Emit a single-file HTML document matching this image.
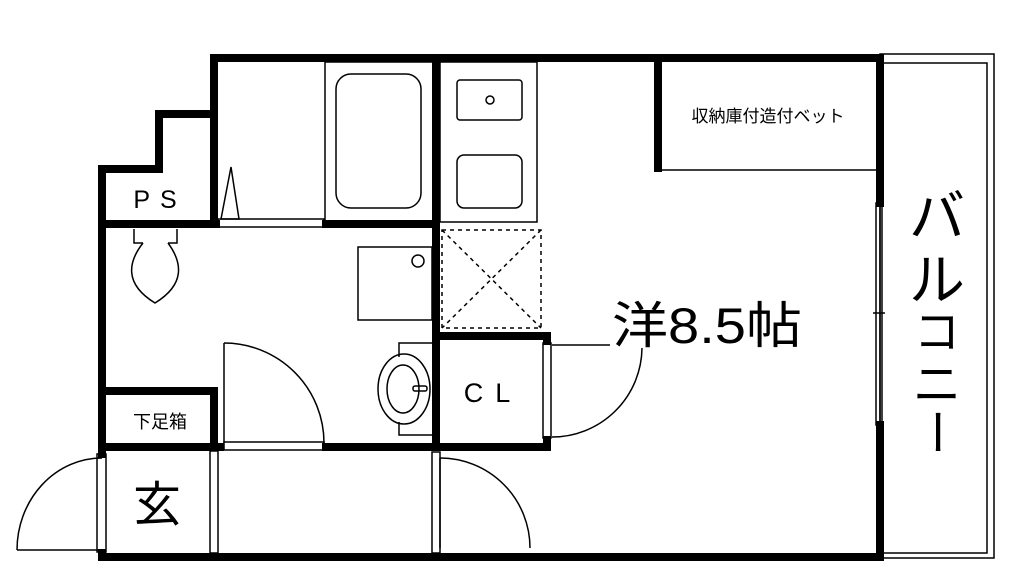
<!DOCTYPE html>
<html><head><meta charset="utf-8"><style>
html,body{margin:0;padding:0;background:#fff;}
svg{display:block;}
text{font-family:"Liberation Sans","Noto Sans CJK JP",sans-serif;fill:#000;}
</style></head><body>
<svg width="1024" height="579" viewBox="0 0 1024 579" xmlns="http://www.w3.org/2000/svg">
<g fill="none" stroke="#000" stroke-width="1.5">
<rect x="880" y="54" width="114" height="504"/>
<rect x="880" y="63" width="107" height="490"/>
<line x1="658" y1="170" x2="880" y2="170"/>
<rect x="325" y="62" width="110" height="160"/>
<rect x="336" y="74" width="85" height="134" rx="15"/>
<polygon points="221,219 231,167 239,219"/>
<rect x="218" y="219" width="106" height="8"/>
<rect x="224" y="442" width="100" height="8"/>
<rect x="440" y="62" width="97" height="160"/>
<rect x="457" y="80" width="65" height="40" rx="3"/>
<circle cx="490" cy="100" r="4"/>
<rect x="457" y="155" width="65" height="53" rx="7"/>
<g stroke-dasharray="4,4"><rect x="442" y="230" width="99" height="98"/><line x1="442" y1="230" x2="541" y2="328"/><line x1="541" y1="230" x2="442" y2="328"/></g>
<rect x="358" y="247" width="74" height="73"/>
<circle cx="418" cy="261" r="6"/>
<polyline points="432,343 399,343 399,357"/>
<polyline points="432,435 399,435 399,422"/>
<ellipse cx="404" cy="389" rx="26" ry="35"/>
<ellipse cx="403" cy="389" rx="16" ry="24"/>
<rect x="413" y="386" width="14" height="5" rx="2"/>
<polyline points="134,229 134,243 143,243"/>
<polyline points="177,229 177,243 168,243"/>
<path d="M143,243 C128,262 124,284 155,303 C186,284 182,262 168,243"/>
<line x1="224" y1="343" x2="224" y2="443"/>
<path d="M224,343 A100,100 0 0 1 324,443"/>
<line x1="440" y1="458" x2="440" y2="548"/>
<path d="M440,458 A90,90 0 0 1 530,548"/>
<path d="M102,458 A85,92 0 0 0 17,550"/>
<line x1="17" y1="550" x2="102" y2="550"/>
<line x1="552" y1="345" x2="610" y2="345"/>
<path d="M642,348 A90,90 0 0 1 552,437"/>
<rect x="97" y="454" width="9" height="98"/>
<rect x="210" y="451" width="8" height="102"/>
<rect x="432" y="452" width="8" height="101"/>
<rect x="543" y="343" width="8" height="95"/>
<rect x="876" y="203" width="6" height="222"/>
<line x1="873" y1="313" x2="885" y2="313"/>
</g>
<g stroke="#000" stroke-width="8" fill="none" stroke-linecap="square">
<polyline points="880,58 214,58 214,114 159,114 159,169 102,169 102,454"/>
<line x1="102" y1="553" x2="102" y2="557"/>
<polyline points="102,557 880,557 880,425"/>
<polyline points="880,203 880,58"/>
<line x1="658" y1="58" x2="658" y2="168"/>
<line x1="214" y1="58" x2="214" y2="224"/>
<line x1="102" y1="224" x2="216" y2="224"/>
<line x1="326" y1="224" x2="436" y2="224"/>
<line x1="436" y1="58" x2="436" y2="447"/>
<line x1="102" y1="447" x2="220" y2="447"/>
<line x1="326" y1="447" x2="547" y2="447"/>
<line x1="102" y1="391" x2="214" y2="391"/>
<line x1="214" y1="391" x2="214" y2="447"/>
<line x1="436" y1="336" x2="547" y2="336"/>
<line x1="547" y1="336" x2="547" y2="341"/>
<line x1="547" y1="440" x2="547" y2="447"/>
</g>
<text x="160" y="208" font-size="25" text-anchor="middle" letter-spacing="10">PS</text>
<text x="160" y="428" font-size="18" text-anchor="middle">下足箱</text>
<text x="157" y="521" font-size="48" text-anchor="middle">玄</text>
<text x="493" y="402" font-size="27" text-anchor="middle" letter-spacing="12">CL</text>
<text x="612" y="343" font-size="50" textLength="190" lengthAdjust="spacingAndGlyphs">洋8.5帖</text>
<text x="768" y="122" font-size="17" text-anchor="middle">収納庫付造付ベット</text>
<text x="937" y="236" font-size="56" text-anchor="middle">バ</text>
<text x="937" y="300" font-size="56" text-anchor="middle">ル</text>
<text x="937" y="348" font-size="46" text-anchor="middle">コ</text>
<text x="937" y="401" font-size="48" text-anchor="middle">ニ</text>
<text x="0" y="0" font-size="48" text-anchor="middle" transform="translate(920,432) rotate(90)">ー</text>
</svg>
</body></html>
